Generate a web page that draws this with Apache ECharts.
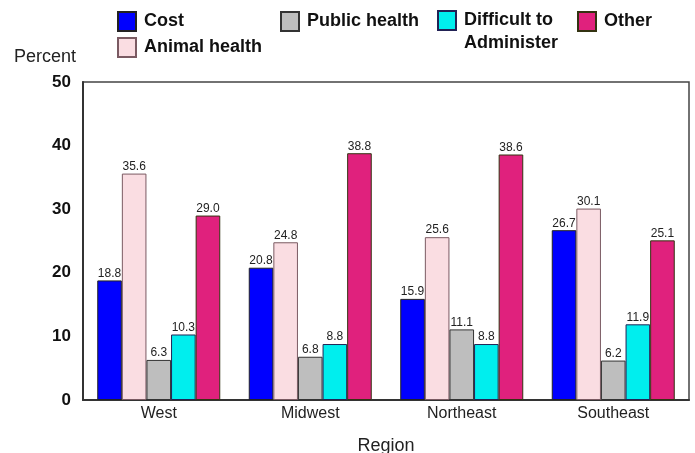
<!DOCTYPE html>
<html>
<head>
<meta charset="utf-8">
<script src="https://cdn.jsdelivr.net/npm/echarts@6/dist/echarts.min.js"></script>
<style>
  html, body { margin: 0; padding: 0; background: #fff; }
  #chart { width: 695px; height: 453px; }
</style>
</head>
<body>
<div id="chart"></div>
<script>
// Regions on the x axis
const regions = ['West', 'Midwest', 'Northeast', 'Southeast'];

// Percent of respondents by reason
const cost = [18.8, 20.8, 15.9, 26.7];
const animalHealth = [35.6, 24.8, 25.6, 30.1];
const publicHealth = [6.3, 6.8, 11.1, 6.2];
const difficult = [10.3, 8.8, 8.8, 11.9];
const other = [29.0, 38.8, 38.6, 25.1];

// Y axis range
const yMin = 0;
const yMax = 50;
const yStep = 10;

const FONT = '"Liberation Sans", Arial, Helvetica, sans-serif';

function barSeries(name, data, color, border) {
  return {
    name: name,
    type: 'bar',
    data: data,
    barWidth: 24.6,
    barGap: '0%',
    itemStyle: { color: color, borderColor: border, borderWidth: 1 },
    label: {
      show: true,
      position: 'top',
      distance: 1,
      color: '#222',
      fontSize: 12,
      fontFamily: FONT,
      formatter: p => p.value.toFixed(1)
    }
  };
}

const legendText = {
  fontFamily: FONT,
  fontSize: 18,
  fontWeight: 'bold',
  color: '#111',
  padding: [0, 0, 0, 3]
};

const legendBase = {
  padding: 0, itemWidth: 18, itemHeight: 19, icon: 'rect',
  textStyle: legendText, selectedMode: false
};

const chart = echarts.init(document.getElementById('chart'), null, { renderer: 'canvas' });

chart.setOption({
  animation: false,
  backgroundColor: '#fff',
  textStyle: { fontFamily: FONT },
  grid: {
    left: 83, right: 6, top: 82, bottom: 53,
    outerBoundsMode: 'none',
    containLabel: false,
    show: true, borderColor: '#444', borderWidth: 1.5
  },
  legend: [
    Object.assign({}, legendBase, {
      data: ['Cost', 'Animal health'], orient: 'vertical',
      left: 117, top: 11, itemGap: 5
    }),
    Object.assign({}, legendBase, {
      data: ['Public health'], left: 280, top: 11
    }),
    Object.assign({}, legendBase, {
      // leading blank line keeps the first text line level with the swatch
      data: ['Difficult to Administer'], left: 437, top: -14,
      formatter: () => '\nDifficult to\nAdminister',
      textStyle: Object.assign({}, legendText, { lineHeight: 23 })
    }),
    Object.assign({}, legendBase, {
      data: ['Other'], left: 577, top: 11
    })
  ],
  xAxis: {
    type: 'category',
    data: regions,
    name: 'Region',
    nameLocation: 'middle',
    nameGap: 37,
    nameTextStyle: { fontFamily: FONT, fontSize: 18, color: '#222' },
    axisLine: { lineStyle: { color: '#333', width: 2 } },
    axisTick: { show: false },
    axisLabel: { margin: 6, fontFamily: FONT, fontSize: 16, color: '#222' }
  },
  yAxis: {
    type: 'value',
    min: yMin, max: yMax, interval: yStep,
    axisLine: { show: true, lineStyle: { color: '#333', width: 2 } },
    axisTick: { show: false },
    splitLine: { show: false },
    axisLabel: { margin: 12, fontFamily: FONT, fontSize: 17, fontWeight: 'bold', color: '#111' }
  },
  graphic: [
    {
      type: 'text', left: 14, top: 48,
      style: { text: 'Percent', fontFamily: FONT, fontSize: 18, fill: '#222' }
    }
  ],
  series: [
    barSeries('Cost', cost, '#0000ff', '#222'),
    barSeries('Animal health', animalHealth, '#fadde2', '#7a5a62'),
    barSeries('Public health', publicHealth, '#bebebe', '#333'),
    barSeries('Difficult to Administer', difficult, '#00eeee', '#225'),
    barSeries('Other', other, '#e0217d', '#331'),
  ]
});
</script>
</body>
</html>
